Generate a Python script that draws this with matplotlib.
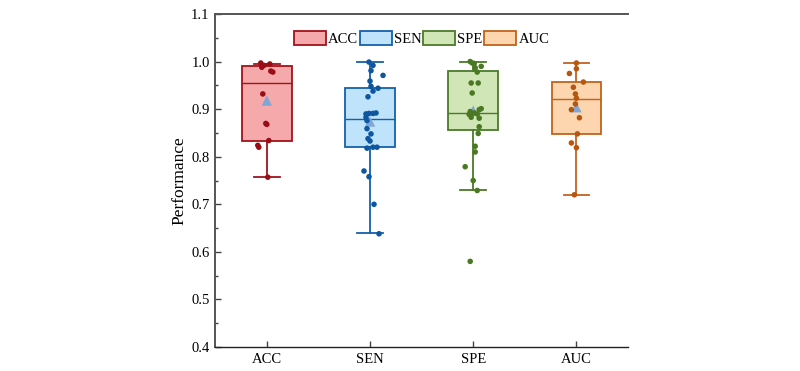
import matplotlib
matplotlib.use("Agg")
import matplotlib.pyplot as plt
from matplotlib.patches import Patch

plt.rcParams["font.family"] = ["Liberation Serif", "DejaVu Serif"]

# metric names and colours
METRICS = ["ACC", "SEN", "SPE", "AUC"]
EDGE = ["#a3121c", "#1461ab", "#4b7a27", "#c2621c"]
FILL = ["#f5a9ab", "#bee3fa", "#d0e6b7", "#fdd5ae"]
DOTS = ["#9a0d16", "#0e579f", "#4a7823", "#b6560f"]
MEAN_COLOR = "#7ea7d6"

# box statistics
q1 = [0.834, 0.820, 0.857, 0.848]
med = [0.955, 0.880, 0.892, 0.922]
q3 = [0.990, 0.944, 0.981, 0.957]
whislo = [0.757, 0.639, 0.729, 0.720]
whishi = [0.995, 0.999, 1.000, 0.996]
means = [0.918, 0.874, 0.897, 0.904]

# individual results (value, horizontal jitter in px as seen in the figure)
acc_vals = [0.997, 0.992, 0.988, 0.995, 0.980, 0.978, 0.932, 0.870, 0.868,
            0.834, 0.824, 0.820, 0.757]
acc_jit = [-6, -3, -5, 3, 4, 6, -4, -1, 0, 2, -9, -8, 1]
sen_vals = [0.999, 0.992, 0.981, 0.971, 0.959, 0.948, 0.944, 0.938, 0.926,
            0.891, 0.891, 0.892, 0.890, 0.883, 0.876, 0.859, 0.848, 0.838,
            0.833, 0.818, 0.820, 0.820, 0.770, 0.758, 0.700, 0.638]
sen_jit = [-1, 3, 1, 13, 0, 1, 8, 3, -2, -1, 3, 6, -4, -4, -3, -3, 1, -2,
           0, -3, 3, 7, -6, -1, 4, 9]
spe_vals = [1.000, 0.997, 0.996, 0.990, 0.987, 0.978, 0.955, 0.955, 0.934,
            0.901, 0.899, 0.895, 0.892, 0.889, 0.890, 0.883, 0.881, 0.863,
            0.849, 0.822, 0.810, 0.779, 0.750, 0.729, 0.580]
spe_jit = [-3, -1, 1, 8, 2, 4, -2, 5, -1, 8, 6, -3, 1, -4, 4, -2, 6, 6,
           5, 2, 2, -8, 0, 4, -3]
auc_vals = [0.997, 0.985, 0.975, 0.957, 0.946, 0.932, 0.923, 0.911, 0.899,
            0.882, 0.848, 0.829, 0.819, 0.720]
auc_jit = [0, 0, -7, 7, -3, -1, 0, -1, -5, 3, 1, -5, 0, -2]

points = [(acc_vals, acc_jit), (sen_vals, sen_jit),
          (spe_vals, spe_jit), (auc_vals, auc_jit)]

PX_PER_UNIT = 103.0

fig = plt.figure(figsize=(8.0, 3.71), dpi=100)
ax = fig.add_axes([0.269, 0.0647, 0.516, 0.8975])

stats = []
for i, m in enumerate(METRICS):
    stats.append({"label": m, "q1": q1[i], "med": med[i], "q3": q3[i],
                  "whislo": whislo[i], "whishi": whishi[i],
                  "mean": means[i], "fliers": []})

for i in range(len(METRICS)):
    ax.bxp([stats[i]], positions=[i], widths=0.48, capwidths=0.25,
           patch_artist=True, showmeans=False, showfliers=False,
           boxprops={"facecolor": FILL[i], "edgecolor": EDGE[i], "linewidth": 1.3},
           medianprops={"color": EDGE[i], "linewidth": 1.0},
           whiskerprops={"color": EDGE[i], "linewidth": 1.3},
           capprops={"color": EDGE[i], "linewidth": 1.3}, zorder=2)
    ax.scatter([i], [means[i]], marker="^", s=55, color=MEAN_COLOR,
               edgecolor="none", zorder=3)
    vals, jit = points[i]
    xs = [i + j / PX_PER_UNIT for j in jit]
    ax.scatter(xs, vals, s=16, color=DOTS[i], edgecolor="none", zorder=4)

ax.set_xlim(-0.5, 3.5)
ax.set_ylim(0.4, 1.1)
ax.set_xticks(range(len(METRICS)))
ax.set_xticklabels(METRICS, fontsize=10.5)
ax.set_yticks([0.4, 0.5, 0.6, 0.7, 0.8, 0.9, 1.0, 1.1])
ax.set_yticklabels(["0.4", "0.5", "0.6", "0.7", "0.8", "0.9", "1.0", "1.1"],
                   fontsize=10.5)
ax.set_yticks([0.45, 0.55, 0.65, 0.75, 0.85, 0.95, 1.05], minor=True)
ax.tick_params(axis="both", direction="in", length=4, width=1.0,
               color="#444444", pad=4)
ax.tick_params(axis="y", which="minor", direction="in", length=2.5, width=1.0,
               color="#444444")
ax.tick_params(axis="x", which="minor", bottom=False)
ax.set_ylabel("Performance", fontsize=12.5, labelpad=3)

for side in ["left", "top", "bottom"]:
    ax.spines[side].set_linewidth(1.4)
    ax.spines[side].set_color("#555555")
ax.spines["bottom"].set_color("#222222")
ax.spines["bottom"].set_linewidth(1.0)
ax.spines["right"].set_visible(False)

handles = [Patch(facecolor=FILL[i], edgecolor=EDGE[i], linewidth=1.3)
           for i in range(len(METRICS))]
ax.legend(handles, METRICS, loc="upper center", bbox_to_anchor=(0.5, 0.975),
          ncol=4, frameon=False, fontsize=10.5, handlelength=2.2,
          handleheight=1.1, handletextpad=0.15, columnspacing=0.1,
          borderaxespad=0.2)

fig.savefig("out.png", dpi=100)
